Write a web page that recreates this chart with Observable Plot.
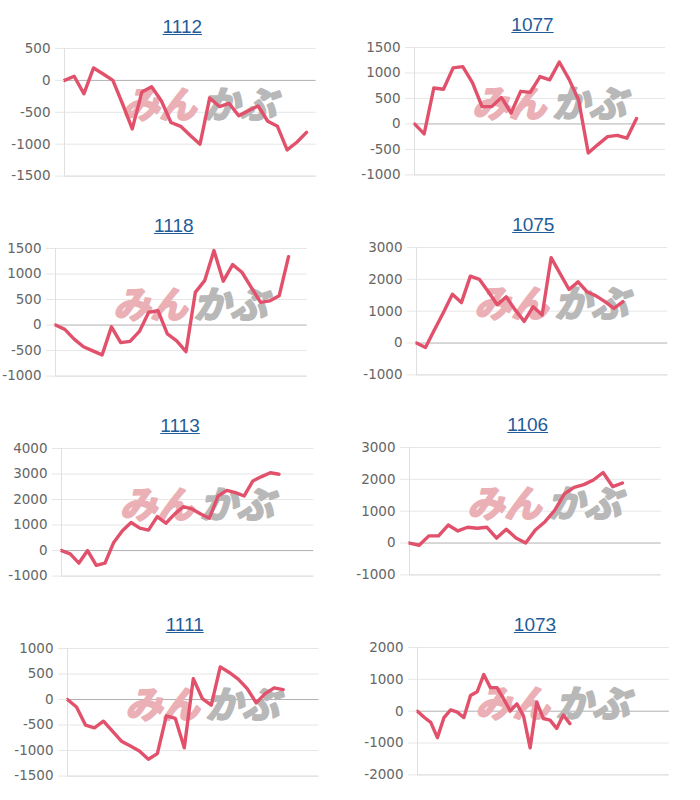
<!DOCTYPE html>
<html><head><meta charset="utf-8">
<script src="https://cdn.jsdelivr.net/npm/d3@7"></script>
<script src="https://cdn.jsdelivr.net/npm/@observablehq/plot@0.6"></script>
<style>
html,body{margin:0;padding:0;background:#fff;}
#root{position:relative;width:700px;height:800px;overflow:hidden;background:#fff;}
.title{position:absolute;width:200px;text-align:center;font:19px/19px "Liberation Sans",Arial,sans-serif;}
.title a{color:#1f5c99;text-decoration:underline;}
.panel{position:absolute;}
.panel svg{overflow:visible;}
</style></head><body><div id="root"></div>
<script>
// ---- data ----
const codes = ["1112", "1077", "1118", "1075", "1113", "1106", "1111", "1073"];
const xCounts = [27, 27, 28, 29, 30, 27, 29, 39];

const s1112 = [0, 65, -210, 195, 100, 0, -370, -760, -180, -100, -320, -660, -720, -865, -1000, -275, -410, -360, -555, -475, -400, -640, -720, -1090, -970, -815];
const s1077 = [0, -195, 705, 680, 1100, 1125, 810, 340, 340, 520, 215, 640, 620, 930, 865, 1215, 880, 470, -570, -405, -250, -225, -280, 105];
const s1118 = [0, -85, -275, -425, -505, -585, -35, -345, -320, -125, 250, 280, -175, -310, -520, 640, 870, 1460, 860, 1185, 1035, 740, 445, 475, 575, 1340];
const s1075 = [0, -140, 420, 960, 1530, 1270, 2100, 2000, 1610, 1200, 1450, 1040, 680, 1140, 880, 2680, 2180, 1680, 1920, 1610, 1480, 1300, 1090, 1300];
const s1113 = [0, -130, -490, 0, -580, -490, 320, 780, 1100, 880, 800, 1330, 1070, 1430, 1720, 1630, 1430, 1270, 2140, 2360, 2270, 2140, 2730, 2900, 3050, 2990];
const s1106 = [0, -70, 225, 225, 565, 380, 495, 465, 495, 155, 435, 155, 0, 410, 670, 1030, 1545, 1750, 1835, 1980, 2215, 1770, 1885];
const s1111 = [0, -145, -500, -555, -425, -620, -815, -910, -1010, -1170, -1060, -320, -370, -945, 410, 20, -110, 640, 530, 400, 215, -65, 115, 230, 195];
const s1073 = [0, -190, -350, -830, -200, 40, -30, -200, 490, 610, 1150, 740, 740, 385, 10, 230, -150, -1150, 280, -230, -280, -540, -120, -390];

const t1112 = [-1500, -1000, -500, 0, 500];
const t1077 = [-1000, -500, 0, 500, 1000, 1500];
const t1118 = [-1000, -500, 0, 500, 1000, 1500];
const t1075 = [-1000, 0, 1000, 2000, 3000];
const t1113 = [-1000, 0, 1000, 2000, 3000, 4000];
const t1106 = [-1000, 0, 1000, 2000, 3000];
const t1111 = [-1500, -1000, -500, 0, 500, 1000];
const t1073 = [-2000, -1000, 0, 1000, 2000];

const series = [s1112, s1077, s1118, s1075, s1113, s1106, s1111, s1073];
const tickSets = [t1112, t1077, t1118, t1075, t1113, t1106, t1111, t1073];

// ---- layout ----
const axisX = [64.3, 414, 55, 416, 61, 409.3, 66.7, 416.5];
const rightX = [316, 665, 306.7, 667.3, 313.3, 661, 318.3, 668.3];
const titleCX = [182.3, 532.5, 173.8, 533.3, 180, 527.7, 184.7, 535];
const titleCY = [26, 24.5, 225, 224.5, 425, 424.5, 624.5, 624.5];

const lineColor = "#e2516b";
const root = document.getElementById("root");

series.forEach((vals, i) => {
  const col = i % 2, row = Math.floor(i / 2);
  const rowY = row * 200;
  const top = rowY + (col ? 46.8 : 47.7);
  const bottom = rowY + (col ? 174.2 : 175.3);
  const plotH = bottom - top;
  const plotW = rightX[i] - axisX[i];
  const ML = 62, MR = 6, MT = 12, MB = 10;
  const ticks = tickSets[i];

  // title
  const t = document.createElement("div");
  t.className = "title";
  t.style.left = (titleCX[i] - 100) + "px";
  t.style.top = (titleCY[i] - 9.3) + "px";
  const a = document.createElement("a");
  a.href = "#";
  a.textContent = codes[i];
  t.appendChild(a);
  root.appendChild(t);

  const wm = {frameAnchor: "middle", text: d => d, dy: -6, fontSize: 37, fontWeight: "bold",
    fontStyle: "italic", fontFamily: "'Noto Sans CJK JP', sans-serif", strokeWidth: 2.2, strokeLinejoin: "round"};

  const chart = Plot.plot({
    width: ML + plotW + MR,
    height: MT + plotH + MB,
    marginLeft: ML, marginRight: MR, marginTop: MT, marginBottom: MB,
    style: {background: "transparent", fontFamily: "'DejaVu Sans', sans-serif", fontSize: "13.5px", color: "#666"},
    x: {domain: [0, xCounts[i] - 1], axis: null},
    y: {domain: [ticks[0], ticks[ticks.length - 1]]},
    marks: [
      Plot.ruleY(ticks, {stroke: d => d === 0 ? "#b0b0b0" : (d === ticks[0] ? "#d2d2d2" : "#e6e6e6"), strokeWidth: 1}),
      Plot.ruleX([0], {stroke: "#e0e0e0"}),
      Plot.text(["みん"], {...wm, dx: 6, textAnchor: "end", fill: "#eab0b5", stroke: "#eab0b5"}),
      Plot.text(["かぶ"], {...wm, dx: 12, textAnchor: "start", fill: "#b8b8b8", stroke: "#b8b8b8"}),
      Plot.line(vals, {x: (d, j) => j, y: d => d, stroke: lineColor, strokeWidth: 3.4,
        strokeLinejoin: "round", strokeLinecap: "round"}),
      Plot.axisY(ticks, {tickSize: 9, tickPadding: 5, stroke: "#e6e6e6", fill: "#666",
        tickFormat: d => String(d)})
    ]
  });
  const p = document.createElement("div");
  p.className = "panel";
  p.style.left = (axisX[i] - ML) + "px";
  p.style.top = (top - MT) + "px";
  p.appendChild(chart);
  root.appendChild(p);
});
</script></body></html>
